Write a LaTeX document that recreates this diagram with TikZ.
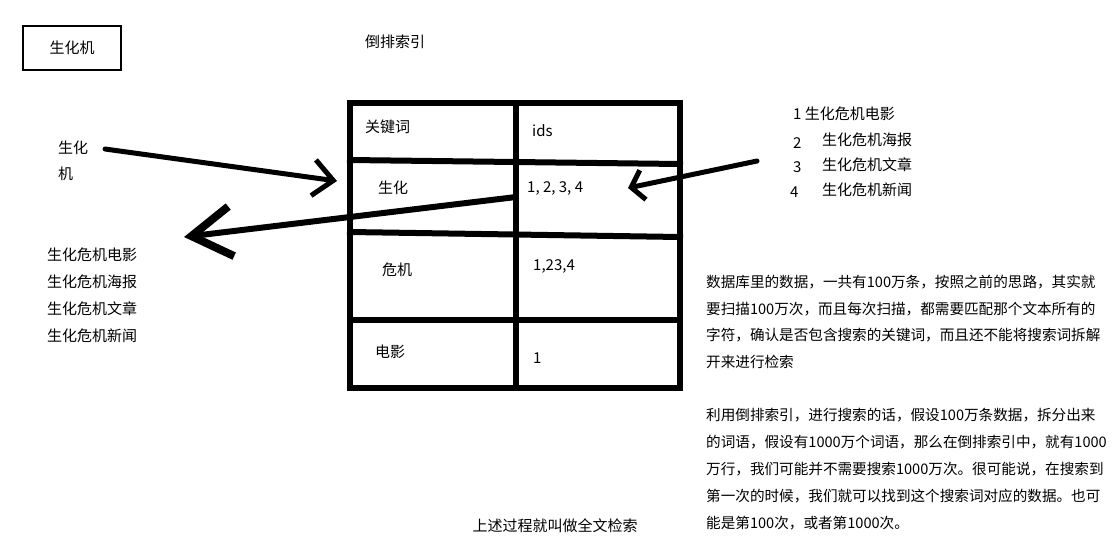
\documentclass[tikz,border=0pt]{standalone}
\usepackage{fontspec}
\setmainfont{Noto Sans CJK SC}
\usetikzlibrary{arrows.meta,positioning}

\tikzset{
  txt/.style={anchor=west, inner sep=0pt, font=\fontsize{15}{18}\selectfont},
  para/.style={anchor=base west, inner sep=0pt, align=left},
  tblline/.style={line width=6pt, line cap=rect},
  handarrow/.style={line width=5pt, line cap=round, line join=round},
}

\begin{document}
\begin{tikzpicture}[x=1pt,y=-1pt]
\useasboundingbox[fill=white] (0,0) rectangle (1119,558);

% heading box and title
\node[draw, line width=2pt, minimum width=98pt, minimum height=44pt,
      font=\fontsize{15}{18}\selectfont] (query) at (72,48) {生化机};
\node[txt] (title) at (365,42) {倒排索引};

% inverted index table
\draw[tblline] (350,103) rectangle (680,388);
\draw[tblline] (516,103) -- (516,388);
\draw[tblline] (350,160) -- (680,164);
\draw[tblline] (350,232) -- (680,237);
\draw[tblline] (350,320) -- (680,320);

\node[txt] (khead) at (365,127) {关键词};
\node[txt] (ihead) at (532,131) {ids};
\node[txt] (kone) at (378,188) {生化};
\node[txt] (ione) at (527,188) {1, 2, 3, 4};
\node[txt] (ktwo) at (382,270) {危机};
\node[txt] (itwo) at (533,266) {1,23,4};
\node[txt] (kthree) at (375,352) {电影};
\node[txt] (ithree) at (533,358) {1};

% split query on the left
\node[txt] (qa) at (58,148) {生化};
\node[txt] (qb) at (58,174) {机};
\coordinate (qstart) at (105,149);
\coordinate (qend) at (337,181);
\draw[handarrow, -{Straight Barb[length=20pt,width=36pt,line width=5pt]}] (qstart) -- (qend);

% result list on the left
\node[txt] (ra) at (47,255) {生化危机电影};
\node[txt] (rb) at (47,282) {生化危机海报};
\node[txt] (rc) at (47,309) {生化危机文章};
\node[txt] (rd) at (47,336) {生化危机新闻};
\coordinate (hit) at (516,197);
\coordinate (rend) at (184,237);
\draw[handarrow, line width=6pt, -{Straight Barb[length=40pt,width=50pt,line width=8pt]}] (hit) -- (rend);

% documents on the right
\node[txt] (da) at (793,114) {1 生化危机电影};
\node[txt] (na) at (793,143) {2};
\node[txt] (db) at (822,140) {生化危机海报};
\node[txt] (nb) at (793,167) {3};
\node[txt] (dc) at (822,165) {生化危机文章};
\node[txt] (nc) at (790,192) {4};
\node[txt] (dd) at (822,190) {生化危机新闻};
\coordinate (dstart) at (757,161);
\coordinate (dend) at (628,188);
\draw[handarrow, -{Straight Barb[length=12pt,width=30pt,line width=5pt]}] (dstart) -- (dend);

% notes
\node[para, font=\fontsize{14.6}{26.4}\selectfont] (noteone) at (706,367)
  {数据库里的数据，一共有100万条，按照之前的思路，其实就\\
   要扫描100万次，而且每次扫描，都需要匹配那个文本所有的\\
   字符，确认是否包含搜索的关键词，而且还不能将搜索词拆解\\
   开来进行检索};
\node[para, font=\fontsize{14.6}{27}\selectfont] (notetwo) at (706,528)
  {利用倒排索引，进行搜索的话，假设100万条数据，拆分出来\\
   的词语，假设有1000万个词语，那么在倒排索引中，就有1000\\
   万行，我们可能并不需要搜索1000万次。很可能说，在搜索到\\
   第一次的时候，我们就可以找到这个搜索词对应的数据。也可\\
   能是第100次，或者第1000次。};
\node[txt, anchor=center] (summary) at (555,526) {上述过程就叫做全文检索};
\end{tikzpicture}
\end{document}
